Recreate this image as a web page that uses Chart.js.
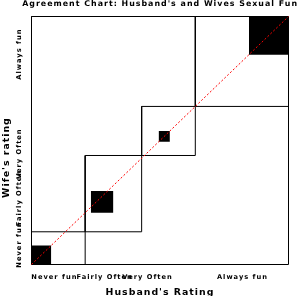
<!DOCTYPE html>
<html><head><meta charset="utf-8">
<script src="https://cdn.jsdelivr.net/npm/chart.js@4.4.1/dist/chart.umd.min.js"></script>
<style>html,body{margin:0;padding:0;background:#fff;overflow:hidden}canvas{display:block}</style>
</head><body>
<canvas id="c" width="298" height="296"></canvas>
<script>
// Rating categories (same for both spouses)
const ratingLabels = ['Never fun', 'Fairly Often', 'Very Often', 'Always fun'];
// Counts: one array per husband's rating, values across wife's rating
const husbandNeverFun    = [7, 7, 2, 3];
const husbandFairlyOften = [2, 8, 3, 7];
const husbandVeryOften   = [1, 5, 4, 9];
const husbandAlwaysFun   = [2, 8, 9, 14];
const chartTitle = "Agreement Chart: Husband's and Wives Sexual Fun";
const xTitle = "Husband's Rating";
const yTitle = "Wife's rating";

const table = [husbandNeverFun, husbandFairlyOften, husbandVeryOften, husbandAlwaysFun];
const K = table.length;
const rowTot = table.map(r => r.reduce((a, b) => a + b, 0));
const colTot = ratingLabels.map((_, j) => table.reduce((a, r) => a + r[j], 0));
const N = rowTot.reduce((a, b) => a + b, 0);
const cumX = [0], cumY = [0];
for (let k = 0; k < K; k++) { cumX.push(cumX[k] + rowTot[k]); cumY.push(cumY[k] + colTot[k]); }

const FONT = 'DejaVu Sans';
const datasets = [];
// diagonal reference line
datasets.push({ data: [{x: 0, y: 0}, {x: N, y: N}], borderColor: '#ff0000', borderWidth: 1, borderDash: [2, 2] });
// observed agreement squares
for (let k = 0; k < K; k++) {
  let ox = 0, oy = 0;
  for (let j = 0; j < k; j++) { ox += table[k][j]; oy += table[j][k]; }
  const x0 = cumX[k] + ox, y0 = cumY[k] + oy, s = table[k][k];
  datasets.push({ data: [{x: x0, y: y0 + s}, {x: x0 + s, y: y0 + s}], borderWidth: 0, borderColor: '#000',
    backgroundColor: '#000', fill: {value: y0} });
}
// marginal boxes
function rect(x0, y0, x1, y1) { return [{x: x0, y: y0}, {x: x1, y: y0}, {x: x1, y: y1}, {x: x0, y: y1}, {x: x0, y: y0}]; }
for (let k = 0; k < K; k++) {
  datasets.push({ data: rect(cumX[k], cumY[k], cumX[k + 1], cumY[k + 1]), borderColor: '#000', borderWidth: 1 });
}
// frame
datasets.push({ data: rect(0, 0, N, N), borderColor: '#000', borderWidth: 1 });
datasets.forEach(d => { d.showLine = true; d.pointRadius = 0; d.tension = 0; d.clip = false; if (d.fill === undefined) d.fill = false; });

const spacing = {
  id: 'spacing',
  beforeLayout(c) { c.ctx.letterSpacing = '1px'; },
  beforeDraw(c) { c.ctx.letterSpacing = '1px'; }
};

new Chart(document.getElementById('c'), {
  type: 'scatter',
  data: { datasets },
  plugins: [spacing],
  options: {
    responsive: false, animation: false, devicePixelRatio: 1,
    layout: { padding: 0 },
    plugins: {
      legend: { display: false }, tooltip: { enabled: false },
      title: { display: true, text: chartTitle, fullSize: true, align: 'end', color: '#000',
        font: { family: FONT, size: 7.9, weight: 'bold', lineHeight: 1 }, padding: { top: -0.3, bottom: 8.9 } }
    },
    scales: {
      x: {
        type: 'linear', min: 0, max: N,
        grid: { display: false }, border: { display: false },
        afterBuildTicks: s => { s.ticks = [8.1, 25.9, 41.1, 74.7].map(v => ({value: v})); },
        afterFit: s => { s.height = 31.5; },
        ticks: { autoSkip: false, minRotation: 0, maxRotation: 0, padding: 0.5, color: '#000',
          font: { family: FONT, size: 6.7, weight: 'bold' }, callback: (v, i) => ratingLabels[i] },
        title: { display: true, text: xTitle, color: '#000', font: { family: FONT, size: 9.4, weight: 'bold', lineHeight: 1 },
          padding: { top: 0, bottom: -1 } }
      },
      y: {
        type: 'linear', min: 0, max: N,
        grid: { display: false }, border: { display: false },
        afterBuildTicks: s => { s.ticks = [7.3, 24.4, 40.7, 77.2].map(v => ({value: v})); },
        afterFit: s => { s.width = 31.5; },
        ticks: { autoSkip: false, minRotation: 90, maxRotation: 90, crossAlign: 'center', padding: -23.5, color: '#000',
          font: { family: FONT, size: 6.7, weight: 'bold' }, callback: (v, i) => ratingLabels[i] },
        title: { display: true, text: yTitle + '\u00a0'.repeat(8), color: '#000', font: { family: FONT, size: 9.4, weight: 'bold', lineHeight: 1 },
          padding: { top: 1.8, bottom: 0 } }
      },
      rightSpace: {
        type: 'linear', position: 'right', min: 0, max: N,
        grid: { display: false }, border: { display: false }, ticks: { display: false },
        afterFit: s => { s.width = 9.5; }
      }
    }
  }
});
</script>
</body></html>
